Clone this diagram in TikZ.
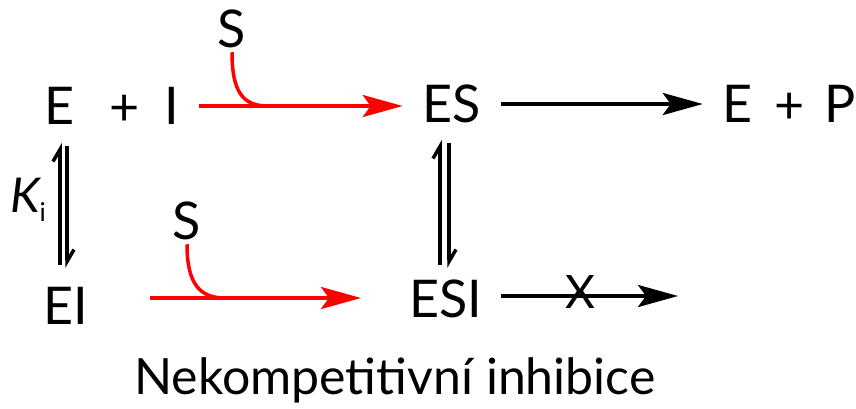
\documentclass[tikz,border=0pt]{standalone}
\usepackage{fontspec}
\setmainfont{Lato}
\usetikzlibrary{arrows.meta}
\begin{document}
\begin{tikzpicture}[x=1pt,y=-1pt,
  lbl/.style={inner sep=0pt,font=\fontsize{52}{52}\selectfont},
  rxn/.style={line width=4pt,-{Stealth[length=40pt,width=22pt,inset=8pt]}},
  redrxn/.style={rxn,red},
  hup/.style={line width=3.5pt,-{Straight Barb[left,length=12pt,width=14pt]}},
  hdown/.style={line width=3.5pt,-{Straight Barb[left,length=12pt,width=14pt]}}]
\useasboundingbox (0,0) rectangle (856,408);
\node[lbl] (E1) at (60,106) {E};
\node[lbl] (plus1) at (125,110) {+};
\node[lbl] (I) at (172,106) {I};
\node[lbl] (ES) at (452,104) {ES};
\node[lbl] (E2) at (738,104) {E};
\node[lbl] (plus2) at (790,108) {+};
\node[lbl] (P) at (840,104) {P};
\node[lbl] (S1) at (232,29) {S};
\node[lbl] (S2) at (187,221) {S};
\node[lbl] (EI) at (66,306) {EI};
\node[lbl] (ESI) at (446,299) {ESI};
\node[inner sep=0pt,font=\fontsize{46}{46}\selectfont] (X) at (580,292) {X};
\node[inner sep=0pt] (Ki) at (28,200) {\fontsize{48}{48}\selectfont\itshape K\raisebox{-9pt}{\fontsize{26}{26}\selectfont\upshape i}};
\node[inner sep=0pt,font=\fontsize{50}{50}\selectfont] (title) at (395,380) {Nekompetitivní inhibice};
% red reactions
\coordinate (j1) at (268,106);
\coordinate (j2) at (225,298);
\draw[redrxn] (I.east) ++(20,0) coordinate (a1) -- ([xshift=-20pt]ES.west |- a1);
\draw[red,line width=3.5pt] ([yshift=-4pt]S1.south) .. controls +(0,40) and +(-25,0) .. (j1);
\draw[redrxn] (150,298) coordinate (a2) -- (361,298) coordinate (b2);
\draw[red,line width=3.5pt] ([yshift=-4pt]S2.south) .. controls +(0,40) and +(-25,0) .. (j2);
% black
\draw[rxn] ([xshift=20pt]ES.east) -- ([xshift=-20pt]E2.west);
\coordinate (x2) at (678,296);
\draw[rxn] ([xshift=18pt]ESI.east |- x2) -- (x2);
% equilibria
\draw[hup] (60,265) -- (60,143);
\draw[hdown] (67,146) -- (67,268);
\draw[hup] (440,265) -- (440,140);
\draw[hdown] (449,143) -- (449,268);
\end{tikzpicture}
\end{document}
